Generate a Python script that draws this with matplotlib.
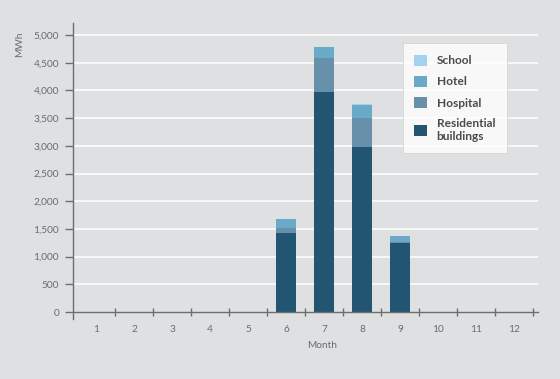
import matplotlib
matplotlib.use("Agg")
import matplotlib.pyplot as plt
from matplotlib.patches import Patch
import numpy as np

months = [1, 2, 3, 4, 5, 6, 7, 8, 9, 10, 11, 12]
residential = [0, 0, 0, 0, 0, 1420, 3980, 2970, 1250, 0, 0, 0]
hospital = [0, 0, 0, 0, 0, 100, 610, 525, 10, 0, 0, 0]
hotel = [0, 0, 0, 0, 0, 160, 190, 240, 115, 0, 0, 0]
school = [0, 0, 0, 0, 0, 0, 0, 20, 0, 0, 0, 0]
series_names = ["School", "Hotel", "Hospital", "Residential\nbuildings"]
yticks = [0, 500, 1000, 1500, 2000, 2500, 3000, 3500, 4000, 4500, 5000]

colors = {"School": "#a3d2ee", "Hotel": "#6aaac9", "Hospital": "#6790ab",
          "Residential\nbuildings": "#225571"}
bg = "#dfe0e2"
txt = "#6b6b6b"

plt.rcParams['font.family'] = ['Lato', 'DejaVu Sans']

fig = plt.figure(figsize=(5.6, 3.79), dpi=100, facecolor=bg)
ax = fig.add_axes([73/560, 1-319/379, (538-73)/560, (319-23)/379])
ax.set_facecolor(bg)

x = np.array(months)
w = 0.53
res = np.array(residential); hos = np.array(hospital); hot = np.array(hotel); sch = np.array(school)
ax.bar(x, res, w, color=colors["Residential\nbuildings"], zorder=3)
ax.bar(x, hos, w, bottom=res, color=colors["Hospital"], zorder=3)
ax.bar(x, hot, w, bottom=res+hos, color=colors["Hotel"], zorder=3)
ax.bar(x, sch, w, bottom=res+hos+hot, color=colors["School"], zorder=3)

ax.set_xlim(0.39, 12.62)
ax.set_ylim(-126, 5217)

for v in yticks[1:]:
    ax.axhline(v, color="white", lw=1.1, zorder=1)

for s in ["top", "right"]:
    ax.spines[s].set_visible(False)
ax.spines["bottom"].set_position(("data", 0))
for s in ["left", "bottom"]:
    ax.spines[s].set_color("#6e6e6e")
    ax.spines[s].set_linewidth(1.0)
ax.spines["left"].set_zorder(4)
ax.spines["bottom"].set_zorder(4)

ax.set_yticks(yticks)
ax.set_yticklabels([f"{v:,}" for v in yticks])
ax.tick_params(axis="y", direction="out", length=6, width=1, color="#6e6e6e",
               labelsize=7.3, labelcolor=txt, pad=4)

ax.set_xticks(np.arange(1.5, 13, 1))
ax.set_xticklabels([])
ax.tick_params(axis="x", which="major", direction="inout", length=6, width=1, color="#6e6e6e")
ax.set_xticks(x, minor=True)
ax.set_xticklabels([str(m) for m in months], minor=True)
ax.tick_params(axis="x", which="minor", length=0, labelsize=7.3, labelcolor=txt, pad=9)

fig.text(322/560, 1-346/379, "Month", ha="center", va="center", fontsize=7.3, color=txt)
fig.text(20/560, 1-44/379, "MWh", ha="center", va="center", rotation=90, fontsize=7.3, color=txt)

handles = [Patch(facecolor=colors[n], edgecolor="none") for n in series_names]
leg = ax.legend(handles, series_names, loc="upper left",
                bbox_to_anchor=((402.7-73)/465, 1-(43.3-23)/296),
                frameon=True, fancybox=False, fontsize=8.6, handlelength=1.05, handleheight=1.05,
                handletextpad=0.85, labelspacing=0.8, borderpad=0.95, borderaxespad=0)
leg.get_frame().set_facecolor("white")
leg.get_frame().set_edgecolor("#d0d0d0")
leg.get_frame().set_linewidth(0.6)
for t in leg.get_texts():
    t.set_color("#4a4a4a")
    t.set_fontweight("bold")
leg.set_zorder(5)

fig.savefig("out.png", dpi=100, facecolor=bg)
